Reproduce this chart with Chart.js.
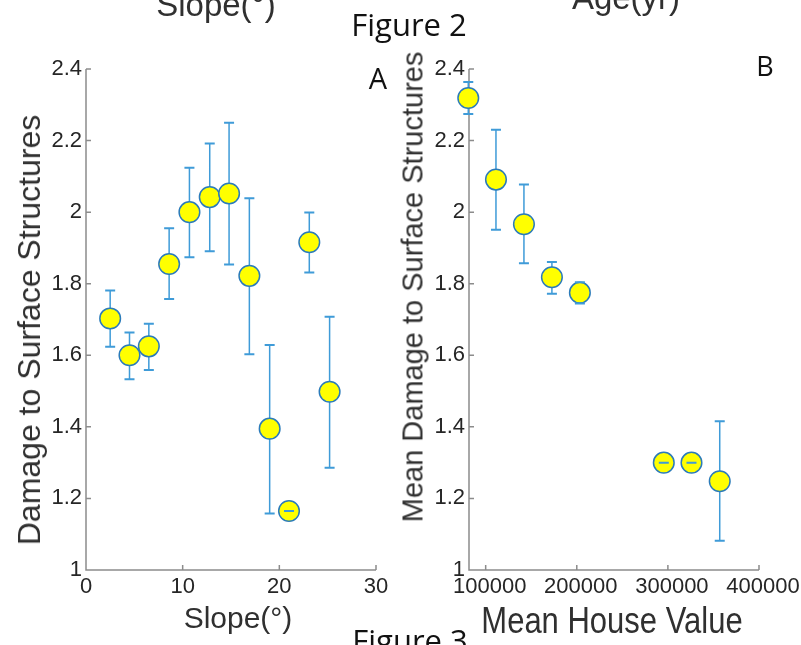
<!DOCTYPE html>
<html lang="en">
<head>
  <meta charset="utf-8">
  <title>Figure 2 - Damage to Surface Structures</title>
  <script src="https://cdn.jsdelivr.net/npm/chart.js"></script>
  <style>
    * { box-sizing:border-box; margin:0; padding:0 }
    body {
      width:801px; height:645px; background:#fff; position:relative; overflow:hidden;
      font-family:"Liberation Sans", Arial, sans-serif; color:#303030
    }
    canvas { position:absolute; top:0 }
    #chartA { left:0 }
    #chartB { left:398px }
    .txt { position:absolute; white-space:nowrap; line-height:1; transform:translate(-50%,-50%) }
    .fig { font-family:"Open Sans", sans-serif; color:#111 }
    .ytitle { transform:translate(-50%,-50%) rotate(-90deg) }
  </style>
</head>
<body>
  <canvas id="chartA" width="398" height="645"></canvas>
  <canvas id="chartB" width="403" height="645"></canvas>

  <div class="txt" style="left:216px;top:4px;font-size:33px">Slope(°)</div>
  <div class="txt" style="left:626px;top:-3px;font-size:33px">Age(yr)</div>
  <div class="txt fig" style="left:409px;top:24px;font-size:31px">Figure 2</div>
  <div class="txt fig" style="left:378px;top:77px;font-size:29px">A</div>
  <div class="txt fig" style="left:765px;top:65px;font-size:27px">B</div>
  <div class="txt fig" style="left:410px;top:640px;font-size:31px">Figure 3</div>

  <div class="txt ytitle" style="left:29px;top:330px;font-size:32px">Damage to Surface Structures</div>
  <div class="txt ytitle" style="left:413px;top:287px;font-size:29px">Mean Damage to Surface Structures</div>
  <div class="txt" style="left:238px;top:618px;font-size:30px">Slope(°)</div>
  <div class="txt" style="left:612px;top:620px;font-size:31px;transform:translate(-50%,-50%) scaleY(1.2)">Mean House Value</div>

  <script>
  // ===== DATA: panel A (slope) =====
  const slopeX  = [2.5, 4.5, 6.5, 8.6, 10.7, 12.8, 14.8, 16.9, 19.0, 21.0, 23.1, 25.2];
  const slopeY  = [1.703, 1.600, 1.625, 1.855, 2.000, 2.042, 2.052, 1.822, 1.395, 1.165, 1.916, 1.498];
  const slopeHi = [1.781, 1.664, 1.688, 1.955, 2.124, 2.192, 2.250, 2.039, 1.629, 1.165, 1.999, 1.708];
  const slopeLo = [1.624, 1.533, 1.559, 1.757, 1.874, 1.891, 1.854, 1.603, 1.158, 1.165, 1.831, 1.286];

  // ===== DATA: panel B (house value) =====
  const houseX  = [80900, 111300, 142000, 172700, 203400, 295500, 325900, 356900];
  const houseY  = [2.319, 2.091, 1.966, 1.818, 1.775, 1.300, 1.300, 1.248];
  const houseHi = [2.364, 2.230, 2.077, 1.861, 1.804, 1.300, 1.300, 1.416];
  const houseLo = [2.274, 1.951, 1.857, 1.772, 1.745, 1.300, 1.300, 1.082];

  // ===== TICKS =====
  const yTicks      = [1, 1.2, 1.4, 1.6, 1.8, 2, 2.2, 2.4];
  const yTickLabels = ['1', '1.2', '1.4', '1.6', '1.8', '2', '2.2', '2.4'];
  const slopeTicks  = [0, 10, 20, 30];
  const houseTicks  = [100000, 200000, 300000, 400000];

  const tickFont = { family:'"Liberation Sans", Arial, sans-serif', size:22 };

  // axis lines with inward tick marks (matlab look)
  const matlabAxes = {
    id: 'matlabAxes',
    beforeDatasetsDraw(chart) {
      const { ctx, chartArea:{ left, right, top, bottom }, scales:{ x, y } } = chart;
      ctx.save();
      ctx.strokeStyle = '#8c8c8c';
      ctx.lineWidth = 1.5;
      ctx.beginPath();
      ctx.moveTo(left, top); ctx.lineTo(left, bottom); ctx.lineTo(right, bottom);
      y.ticks.forEach(t => {
        const py = y.getPixelForValue(t.value);
        ctx.moveTo(left, py); ctx.lineTo(left + 5, py);
      });
      x.ticks.forEach(t => {
        const px = x.getPixelForValue(t.value);
        ctx.moveTo(px, bottom); ctx.lineTo(px, bottom - 5);
      });
      ctx.stroke();
      ctx.restore();
    }
  };

  // stems under the markers, caps on top
  const errorBars = {
    id: 'errorBars',
    beforeDatasetsDraw(chart) {
      const { ctx, scales:{ x, y } } = chart;
      const ds = chart.data.datasets[0];
      ctx.save();
      ctx.strokeStyle = '#3f9bd8';
      ctx.lineWidth = 1.5;
      ctx.beginPath();
      ds.data.forEach((p, i) => {
        const px = x.getPixelForValue(p.x);
        ctx.moveTo(px, y.getPixelForValue(ds.errHi[i]));
        ctx.lineTo(px, y.getPixelForValue(ds.errLo[i]));
      });
      ctx.stroke();
      ctx.restore();
    },
    afterDatasetsDraw(chart) {
      const { ctx, scales:{ x, y } } = chart;
      const ds = chart.data.datasets[0];
      ctx.save();
      ctx.strokeStyle = '#3f9bd8';
      ctx.lineWidth = 2;
      ctx.beginPath();
      ds.data.forEach((p, i) => {
        const px = x.getPixelForValue(p.x);
        [ds.errHi[i], ds.errLo[i]].forEach(v => {
          const py = y.getPixelForValue(v);
          ctx.moveTo(px - 5, py); ctx.lineTo(px + 5, py);
        });
      });
      ctx.stroke();
      ctx.restore();
    }
  };

  function buildChart(id, xs, ys, hi, lo, xMin, xMax, xTicks, yWidth, padding, labelShift) {
    return new Chart(document.getElementById(id), {
      type: 'scatter',
      data: {
        datasets: [{
          data: xs.map((x, i) => ({ x: x, y: ys[i] })),
          errHi: hi, errLo: lo,
          pointRadius: 10.3, pointHoverRadius: 10.3,
          pointBackgroundColor: '#ffff00',
          pointBorderColor: '#2b7bba',
          pointBorderWidth: 1.5,
          clip: false
        }]
      },
      options: {
        responsive: false, animation: false, devicePixelRatio: 1,
        layout: { padding: padding },
        plugins: { legend:{ display:false }, tooltip:{ enabled:false } },
        scales: {
          x: {
            type: 'linear', min: xMin, max: xMax,
            afterBuildTicks: s => { s.ticks = xTicks.map(v => ({ value: v })); },
            afterFit: s => { s.height = 75; },
            grid: { display:false, drawTicks:false }, border: { display:false },
            ticks: {
              callback: v => String(v), font: tickFont, color: '#262626',
              padding: 4, labelOffset: labelShift, maxRotation: 0, autoSkip: false
            }
          },
          y: {
            type: 'linear', min: 1, max: 2.4,
            afterBuildTicks: s => { s.ticks = yTicks.map(v => ({ value: v })); },
            afterFit: s => { s.width = yWidth; },
            grid: { display:false, drawTicks:false }, border: { display:false },
            ticks: {
              callback: (v, i) => yTickLabels[i], font: tickFont, color: '#262626',
              padding: 4, autoSkip: false
            }
          }
        }
      },
      plugins: [matlabAxes, errorBars]
    });
  }

  buildChart('chartA', slopeX, slopeY, slopeHi, slopeLo, 0, 30, slopeTicks, 86,
             { top:69, right:22, bottom:0, left:0 }, 0);
  buildChart('chartB', houseX, houseY, houseHi, houseLo, 81700, 400000, houseTicks, 71,
             { top:69, right:42, bottom:0, left:0 }, 4);
  </script>
</body>
</html>
